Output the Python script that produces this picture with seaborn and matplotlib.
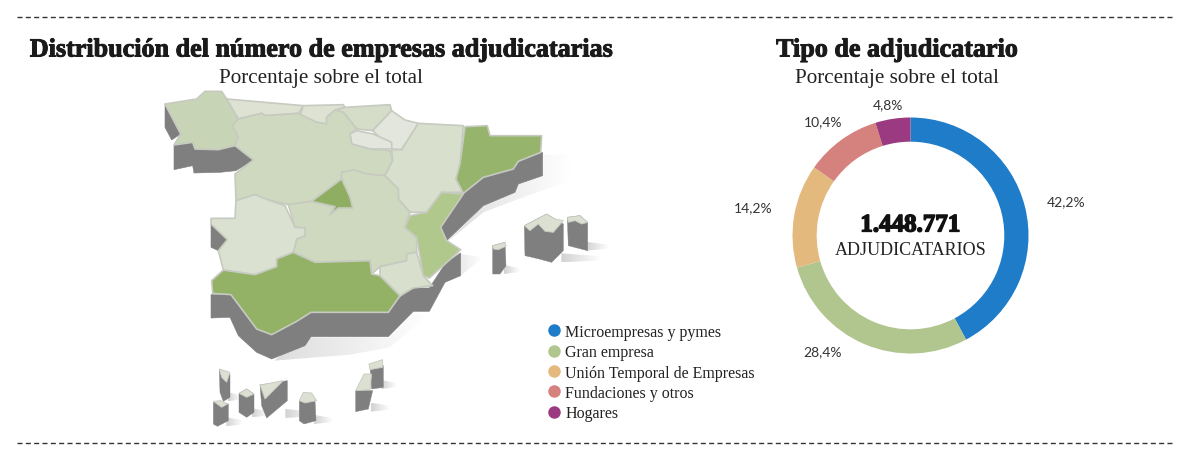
import numpy as np
import seaborn as sns
import matplotlib
matplotlib.use("Agg")
import matplotlib.pyplot as plt
import matplotlib.patheffects as pe
from matplotlib.lines import Line2D
from matplotlib.patches import Polygon

DONUT_LABELS = ["Microempresas y pymes", "Gran empresa", "Unión Temporal de Empresas",
                "Fundaciones y otros", "Hogares"]
DONUT_VALUES = [42.2, 28.4, 14.2, 10.4, 4.8]
DONUT_TEXTS = ["42,2%", "28,4%", "14,2%", "10,4%", "4,8%"]
DONUT_COLORS = ["#1F7CC8", "#B1C68F", "#E3B97E", "#D5827E", "#9B3A80"]

# map outlines
GALICIA = [(45,60),(140,45),(165,22),(215,22),(230,45),(265,105),(248,125),(265,160),(255,185),(205,197),(135,195),(128,175),(72,183),(92,150)]
ASTURIAS = [(230,45),(460,65),(445,88),(345,95),(335,88),(265,105)]
CANTABRIA = [(460,65),(580,62),(585,70),(555,78),(530,100),(530,120),(500,115),(450,95)]
PAIS_VASCO = [(585,70),(720,62),(725,80),(668,140),(620,135),(585,90),(560,78)]
NAVARRA = [(725,80),(765,108),(805,118),(755,197),(725,195),(668,140)]
RIOJA = [(600,150),(620,140),(670,150),(725,175),(725,195),(660,195),(605,180)]
CYL = [(248,125),(265,105),(335,88),(345,95),(445,88),(500,115),(530,120),(530,100),(555,78),(580,85),(620,135),(600,150),(605,180),(660,195),(720,200),(728,230),(705,275),(650,270),(610,258),(575,265),(575,285),(485,352),(415,362),(355,348),(315,332),(258,350),(255,270),(310,228),(255,185),(265,160)]
ARAGON = [(805,118),(940,125),(930,240),(918,285),(940,325),(875,325),(830,385),(780,385),(745,345),(745,315),(705,275),(728,230),(725,197),(755,197)]
CATALUNA = [(945,128),(1012,125),(1020,155),(1175,155),(1172,205),(1105,232),(1090,255),(1000,280),(940,328),(918,285),(930,240)]
MADRID = [(575,285),(600,340),(608,372),(565,372),(540,392),(555,368),(485,352)]
CLM = [(415,362),(485,352),(555,368),(540,392),(565,372),(608,372),(575,285),(575,265),(610,258),(650,270),(705,275),(745,315),(745,345),(780,385),(765,430),(800,460),(800,505),(770,510),(770,530),(690,548),(665,570),(660,530),(495,535),(430,505),(440,465),(465,455),(465,432),(435,430)]
EXTREMADURA = [(258,350),(315,332),(355,348),(405,365),(435,430),(465,432),(465,455),(440,465),(430,505),(380,525),(380,548),(315,572),(220,558),(205,500),(232,467),(183,420),(183,403),(255,403)]
ANDALUCIA = [(220,558),(315,572),(380,548),(380,525),(430,505),(495,535),(660,530),(665,570),(690,575),(750,635),(715,685),(483,685),(440,712),(365,752),(320,735),(243,632),(188,628),(185,590)]
MURCIA = [(690,548),(770,530),(770,510),(800,505),(820,575),(848,605),(790,612),(750,635),(690,575)]
VALENCIA = [(875,325),(940,330),(872,430),(890,470),(932,497),(885,540),(838,582),(820,575),(800,460),(765,430),(780,395),(830,385)]

REGIONS = [
    (GALICIA, "#C8D4B6"), (ASTURIAS, "#DDE2D2"), (CANTABRIA, "#DDE2D2"), (PAIS_VASCO, "#D5DCC8"),
    (NAVARRA, "#E3E6DC"), (RIOJA, "#E3E6DC"), (CYL, "#CFD9BF"), (ARAGON, "#D8DFCC"),
    (CATALUNA, "#96B46C"), (CLM, "#CFD9BF"), (MADRID, "#8FAE62"), (EXTREMADURA, "#DBE1D0"),
    (ANDALUCIA, "#93B266"), (MURCIA, "#D8DFCC"), (VALENCIA, "#B0C88C"),
]

WALLS = [
    [(45,60),(92,150),(65,168),(45,130)],
    [(72,183),(128,175),(135,195),(205,197),(255,185),(310,228),(258,260),(210,265),(132,267),(128,245),(72,257)],
    [(1178,205),(1178,275),(1105,300),(1095,325),(1000,365),(890,470),(872,430),(940,330),(1000,280),(1090,255),(1105,232)],
    [(183,420),(232,467),(205,500),(183,490)],
    [(183,632),(243,632),(320,735),(365,752),(440,712),(483,685),(715,685),(750,640),(790,612),(838,612),(885,540),(932,507),(932,575),(885,595),(838,682),(790,682),(715,758),(483,758),(465,785),(365,825),(320,805),(265,755),(240,700),(183,702)],
]

# islands as (wall, cap)
BALEARES = [
    ([(133,80),(200,45),(250,75),(250,155),(215,190),(178,180),(135,170)],
     [(133,80),(200,45),(225,60),(250,65),(220,100),(195,97),(175,75),(150,95)]),
    ([(262,55),(300,50),(323,70),(323,155),(265,140)],
     [(262,55),(300,50),(323,70),(305,75),(285,65),(265,70)]),
    ([(38,140),(75,130),(78,200),(60,225),(38,225)],
     [(38,140),(75,130),(78,142),(55,152),(40,150)]),
]
CANARIAS = [
    ([(40,160),(85,165),(85,215),(52,232),(40,225)], [(40,157),(62,155),(83,165),(65,175)]),
    ([(58,60),(90,75),(90,145),(70,157),(60,130)], [(58,60),(90,70),(80,100),(65,85)]),
    ([(117,133),(140,120),(162,135),(162,190),(140,205),(117,190)], [(117,133),(140,120),(162,135),(140,145)]),
    ([(180,108),(262,95),(262,155),(200,207),(185,170)], [(180,108),(250,95),(195,150)]),
    ([(298,155),(345,155),(348,215),(312,225),(298,215)], [(298,155),(310,130),(335,132),(350,155),(315,162)]),
    ([(467,125),(518,125),(505,180),(467,188)], [(467,125),(492,75),(515,75),(510,122)]),
    ([(510,55),(550,50),(550,115),(515,120)], [(507,45),(548,32),(548,55),(510,62)]),
]

SOFT_SHADOWS = [
    [(1178,212),(1262,212),(1262,290),(1105,345),(1000,385),(890,475),(1000,365),(1095,325),(1105,300),(1178,275)],
    [(885,480),(932,510),(1000,520),(932,575),(885,500)],
    [(485,760),(720,760),(790,690),(838,690),(720,790),(600,812),(372,830),(430,785)],
]

SERIF = "Liberation Serif"
SANS = "Lato"
WALL_COLOR = "#7F7F7F"
CAP_COLOR = "#DCE0D2"
EDGE_COLOR = "#C6CAC0"

sns.set_theme(style="white")
palette = sns.color_palette(DONUT_COLORS)

fig = plt.figure(figsize=(12, 4.6), dpi=100, facecolor="white")
ax = fig.add_axes([0, 0, 1, 1])
ax.set_xlim(0, 1200)
ax.set_ylim(460, 0)
ax.axis("off")


def crop_pts(pts, left, top):
    return [(left + x / 3, top + y / 3) for x, y in pts]


def soft_shadow(pts, strength=0.3):
    xy = np.array(pts)
    x0, x1 = xy[:, 0].min(), xy[:, 0].max()
    y0, y1 = xy[:, 1].min(), xy[:, 1].max()
    rgba = np.ones((1, 128, 4)) * 0.55
    rgba[0, :, 3] = np.linspace(strength, 0, 128)
    im = ax.imshow(rgba, extent=(x0, x1, y1, y0), aspect="auto", zorder=1, interpolation="bilinear")
    clip = Polygon(pts, closed=True, transform=ax.transData, fc="none", ec="none")
    ax.add_patch(clip)
    im.set_clip_path(clip)


for pts in SOFT_SHADOWS:
    soft_shadow(crop_pts(pts, 150, 85))
for pts in WALLS:
    ax.add_patch(Polygon(crop_pts(pts, 150, 85), closed=True, fc=WALL_COLOR, ec=WALL_COLOR, lw=0.4, zorder=2))
for pts, color in REGIONS:
    ax.add_patch(Polygon(crop_pts(pts, 150, 85), closed=True, fc=color, ec=EDGE_COLOR, lw=1.2,
                         joinstyle="round", zorder=3))

for islands, left, top in [(BALEARES, 480, 200), (CANARIAS, 200, 350)]:
    for wall, cap in islands:
        wall_px = crop_pts(wall, left, top)
        xs = [p[0] for p in wall_px]
        ys = [p[1] for p in wall_px]
        w = max(xs) - min(xs)
        soft_shadow([(max(xs) - 2, max(ys) - 9), (max(xs) + w, max(ys) - 6), (max(xs) + w, max(ys) - 2),
                     (max(xs) - 2, max(ys))], 0.4)
        ax.add_patch(Polygon(wall_px, closed=True, fc=WALL_COLOR, ec=WALL_COLOR, lw=0.3, zorder=2))
        ax.add_patch(Polygon(crop_pts(cap, left, top), closed=True, fc=CAP_COLOR, ec=EDGE_COLOR, lw=0.6, zorder=3))
ax.set_xlim(0, 1200)
ax.set_ylim(460, 0)

# dashed rules
ax.plot([17, 1175], [18, 18], color="#333333", lw=1, dashes=(3.6, 2.4))
ax.plot([17, 1175], [444, 444], color="#333333", lw=1, dashes=(3.6, 2.4))

# titles
heavy = [pe.withStroke(linewidth=0.7, foreground="#1a1a1a")]
ax.text(321, 51, "Distribución del número de empresas adjudicatarias", fontsize=18.8, family=SERIF,
        weight="bold", color="#1a1a1a", ha="center", va="center", path_effects=heavy)
ax.text(897, 51, "Tipo de adjudicatario", fontsize=18.8, family=SERIF, weight="bold",
        color="#1a1a1a", ha="center", va="center", path_effects=heavy)
ax.text(321, 78, "Porcentaje sobre el total", fontsize=15.2, family=SERIF, color="#222222", ha="center", va="center")
ax.text(897, 78, "Porcentaje sobre el total", fontsize=15.2, family=SERIF, color="#222222", ha="center", va="center")

# donut
cx, cy, r = 910.5, 236.5, 118
pie_ax = fig.add_axes([(cx - r) / 1200, 1 - (cy + r) / 460, 2 * r / 1200, 2 * r / 460])
pie_ax.pie(DONUT_VALUES, colors=palette, startangle=90, counterclock=False, radius=1,
           wedgeprops=dict(width=0.205, linewidth=0))
pie_ax.set_xlim(-1, 1)
pie_ax.set_ylim(-1, 1)

for text, x, y in zip(DONUT_TEXTS, [1066, 823, 753, 823, 888], [202, 352, 208, 122, 105]):
    ax.text(x, y, text, fontsize=10, family=SANS, color="#333333", ha="center", va="center")

pie_ax.text(0, 0.09, "1.448.771", fontsize=18, family=SERIF, weight="bold", color="#111111", ha="center",
            va="center", path_effects=[pe.withStroke(linewidth=1.1, foreground="#111111")])
pie_ax.text(0, -0.12, "ADJUDICATARIOS", fontsize=13, family=SERIF, color="#222222", ha="center", va="center")

# legend
handles = [Line2D([], [], marker="o", ls="", ms=9, mfc=c, mec="none") for c in palette]
leg = ax.legend(handles, DONUT_LABELS, loc="upper left", bbox_to_anchor=(546 / 1200, 1 - 325 / 460),
                bbox_transform=fig.transFigure, frameon=False, handlelength=1.0, handletextpad=0.2,
                labelspacing=0.27, borderpad=0, borderaxespad=0, prop=dict(family=SERIF, size=11.5))
for t in leg.get_texts():
    t.set_color("#222222")

fig.savefig("out.png", dpi=100, facecolor="white")
